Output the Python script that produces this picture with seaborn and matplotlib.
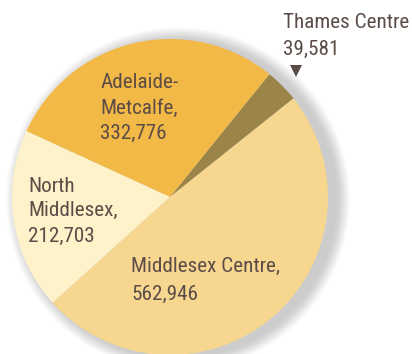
import matplotlib
matplotlib.use("Agg")
import matplotlib.pyplot as plt
from matplotlib import font_manager as fm
import seaborn as sns
import os

# Population by area
areas = ["Thames Centre", "Adelaide-Metcalfe", "North Middlesex", "Middlesex Centre"]
values = [39581, 332776, 212703, 562946]
colors = ["#9b8448", "#f3b946", "#fef2cb", "#f7d690"]
label_lines = [
    ["Thames Centre", "39,581"],
    ["Adelaide-", "Metcalfe,", "332,776"],
    ["North", "Middlesex,", "212,703"],
    ["Middlesex Centre,", "562,946"],
]

sns.set_theme(style="white")


def narrow_font():
    """Pick a regular-weight condensed sans face if one is installed."""
    cands = []
    skip = ("bold", "italic", "oblique", "light", "black", "thin", "medium", "semi", "extra")
    for f in fm.fontManager.ttflist:
        base = os.path.basename(f.fname).lower()
        if ("condensed" in base or "narrow" in base or
                f.stretch in ("condensed", "semi-condensed", "extra-condensed")):
            if any(s in base for s in skip):
                continue
            rank = 5
            key_base = base.replace(" ", "").replace("_", "")
            for i, key in enumerate(["robotocondensed", "liberationsansnarrow",
                                     "notosans-condensed", "dejavusanscondensed",
                                     "opensanscondensed"]):
                if key in key_base:
                    rank = i
            cands.append((rank, f.fname))
    if cands:
        cands.sort()
        return fm.FontProperties(fname=cands[0][1])
    return fm.FontProperties(family="DejaVu Sans", stretch="condensed")


W, H, DPI = 412, 354, 100
fig = plt.figure(figsize=(W / DPI, H / DPI), dpi=DPI)
ax = fig.add_axes([0, 0, 1, 1])

# pie centre (pixels) and radius (pixels)
cx, cy, R = 170, 197, 158


def px(x, y):
    return (x - cx) / R, (cy - y) / R


# soft drop shadow, offset to the right
n = 30
for i in range(n):
    r = 1.0 + 0.003 * (n - i)
    circ = plt.Circle((0.05, -0.015), r, color="#808080", alpha=0.012, lw=0, zorder=0)
    ax.add_patch(circ)

wedges, _ = ax.pie(values, colors=colors, startangle=38.6, counterclock=True,
                   radius=1.0, center=(0, 0), frame=True,
                   wedgeprops=dict(linewidth=0, edgecolor="none"))
for w in wedges:
    w.set_zorder(2)
ax.set_xlim(-cx / R, (W - cx) / R)
ax.set_ylim(-(H - cy) / R, cy / R)
ax.set_axis_off()

fp = narrow_font()
fp.set_size(15.2)
text_color = "#5b4c47"
# left edge and line baselines of each label block, in pixels
anchors = [
    (283, [28, 55]),
    (100, [88, 114, 139]),
    (28, [192, 216, 242]),
    (131, [272, 300]),
]
for lines, (x, baselines) in zip(label_lines, anchors):
    for line, yb in zip(lines, baselines):
        tx, ty = px(x, yb)
        ax.text(tx, ty, line, ha="left", va="baseline", fontproperties=fp,
                color=text_color, zorder=5)

# pointer to the small wedge
ax.plot(*px(295.5, 71), marker="v", markersize=8, color=text_color,
        markeredgewidth=0, zorder=5)

fig.savefig("out.png", dpi=DPI)
